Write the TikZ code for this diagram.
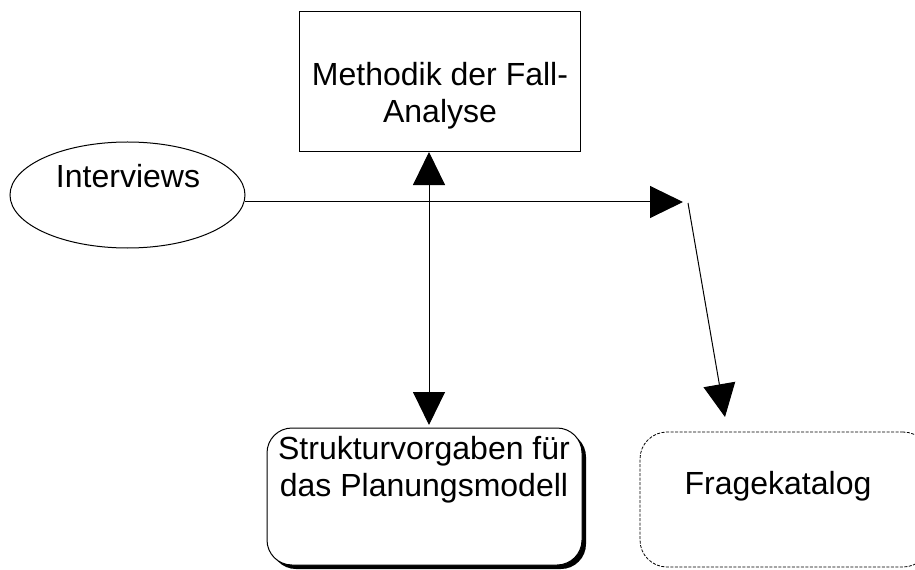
\documentclass[tikz,border=0pt]{standalone}
\usepackage{fontspec}
\setmainfont{Liberation Sans}
\usetikzlibrary{arrows.meta,shapes.geometric,shadows}
\begin{document}
\begin{tikzpicture}[x=1bp,y=-1bp,
  every node/.style={inner sep=0pt, outer sep=0pt},
  label/.style={font=\fontsize{32bp}{37bp}\selectfont, align=center},
  outline/.style={draw, line width=1bp},
  conn/.style={line width=1bp, -{Triangle[length=33bp,width=32bp]}},
  biconn/.style={line width=1bp, {Triangle[length=33bp,width=32bp]}-{Triangle[length=33bp,width=32bp]}}]
\useasboundingbox (0,0) rectangle (915,570);

% shapes
\node[outline, ellipse, minimum width=235bp, minimum height=106bp] (interviews) at (127.5,195) {};
\node[label] (interviewstext) at (128,176.5) {Interviews};

\node[outline, minimum width=281bp, minimum height=140bp] (methodik) at (439.5,82) {};
\node[label] (methodiktext) at (440,96) {Methodik der Fall-\\Analyse};

\node[outline, fill=white, rounded corners=25bp,
      drop shadow={shadow xshift=4bp, shadow yshift=-4bp, fill=black, opacity=1},
      minimum width=315bp, minimum height=137bp] (struktur) at (424.5,496.5) {};
\node[label] (strukturtext) at (424,470) {Strukturvorgaben für\\das Planungsmodell};

\node[draw, line width=0.8bp, dash pattern=on 3bp off 1.5bp, rounded corners=27bp,
      minimum width=290bp, minimum height=135bp] (frage) at (785,499.5) {};
\node[label] (fragetext) at (778,486.6) {Fragekatalog};

% connector ends
\coordinate (hend) at (683,202);
\coordinate (dstart) at (688,203);
\coordinate (dend) at (725,417);
\coordinate (vx) at (429,0);

% connectors
\draw[conn] (interviews.east |- hend) -- (hend);
\draw[conn] (dstart) -- (dend);
\draw[biconn] (methodik.south -| vx) -- ([yshift=3bp]struktur.north -| vx);
\end{tikzpicture}
\end{document}
